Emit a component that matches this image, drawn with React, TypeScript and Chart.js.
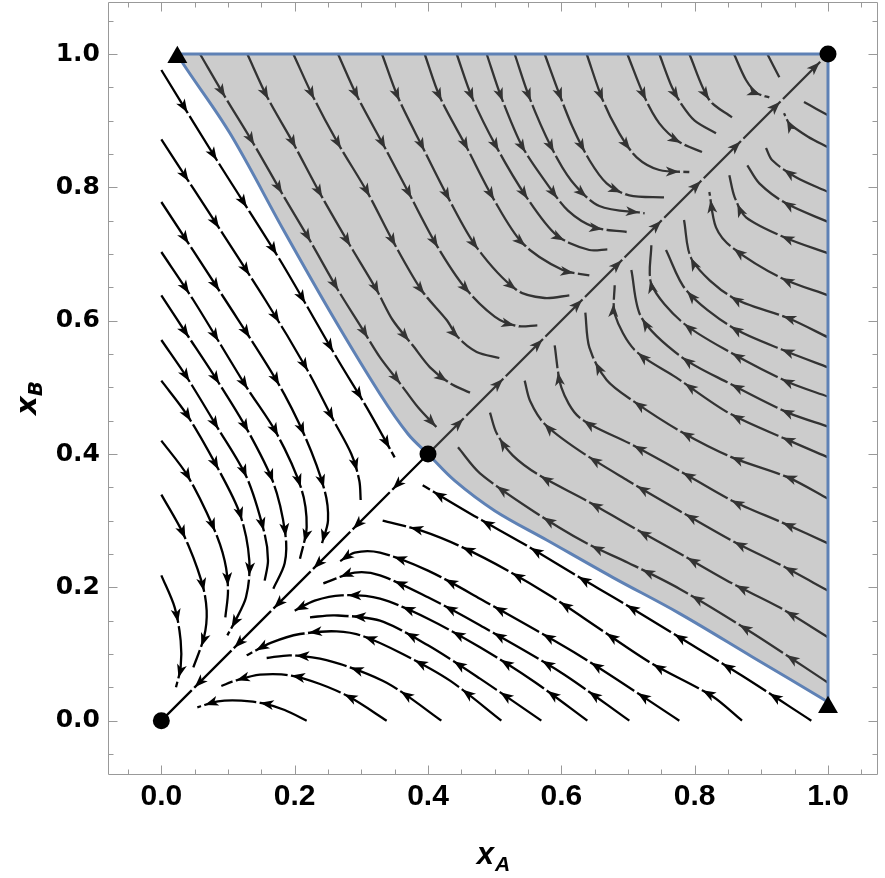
import React, { useEffect, useRef } from "react";
import { Chart, registerables } from "chart.js";

Chart.register(...registerables);

type Pt = [number, number];

// ---------- axes ----------
const xRange: Pt = [-0.08, 1.075];
const yRange: Pt = [-0.0815, 1.078];
const xTicks = [0, 0.2, 0.4, 0.6, 0.8, 1.0];
const yTicks = [0, 0.2, 0.4, 0.6, 0.8, 1.0];
const xAxisTitle = { main: "x", sub: "A" };
const yAxisTitle = { main: "x", sub: "B" };

// ---------- fixed points ----------
const circlePoints: Pt[] = [[0, 0], [0.4, 0.4], [1, 1]];
const trianglePoints: Pt[] = [[0.024, 0.995], [1, 0.02]];

// ---------- separatrix / basin boundary ----------
const upperSeparatrix: Pt[] = [
  [0.025, 1], [0.033, 0.985], [0.103, 0.881], [0.186, 0.731], [0.258, 0.605],
  [0.328, 0.49], [0.37, 0.43], [0.4, 0.4],
];
const lowerSeparatrix: Pt[] = [
  [0.4, 0.4], [0.44, 0.36], [0.5, 0.315], [0.578, 0.271], [0.677, 0.215],
  [0.777, 0.161], [0.886, 0.096], [1, 0.028],
];
const basinCorner: Pt = [1, 1];

// ---------- invariant diagonal ----------
const diagonalToOrigin: Pt[] = [[0.4, 0.4], [0, 0]];
const diagonalToOne: Pt[] = [[0.4, 0.4], [1, 1]];

// ---------- stream lines, white region above the diagonal ----------
const whiteUpperLines: Pt[][] = [
  [[0, 0.976], [0.085, 0.838], [0.178, 0.691], [0.265, 0.541], [0.308, 0.47], [0.35, 0.395]],
  [[0, 0.872], [0.156, 0.631], [0.219, 0.526], [0.258, 0.451], [0.285, 0.4], [0.297, 0.36], [0.299, 0.331]],
  [[0, 0.778], [0.096, 0.631], [0.173, 0.51], [0.216, 0.425], [0.245, 0.345], [0.25, 0.3], [0.241, 0.266]],
  [[0, 0.703], [0.048, 0.631], [0.128, 0.5], [0.173, 0.431], [0.21, 0.348], [0.218, 0.29], [0.208, 0.243]],
  [[0, 0.638], [0.036, 0.583], [0.084, 0.51], [0.128, 0.438], [0.168, 0.357], [0.186, 0.28], [0.185, 0.236], [0.168, 0.198]],
  [[0, 0.571], [0.039, 0.514], [0.084, 0.44], [0.128, 0.365], [0.155, 0.28], [0.16, 0.24], [0.155, 0.21]],
  [[0, 0.51], [0.039, 0.458], [0.084, 0.38], [0.118, 0.31], [0.132, 0.24], [0.127, 0.185], [0.11, 0.148], [0.099, 0.128]],
  [[0, 0.42], [0.039, 0.368], [0.078, 0.29], [0.095, 0.24], [0.1, 0.195], [0.096, 0.155]],
  [[0, 0.339], [0.033, 0.28], [0.06, 0.21], [0.068, 0.165], [0.064, 0.125], [0.048, 0.08]],
  [[0, 0.218], [0.02, 0.17], [0.029, 0.12], [0.029, 0.08], [0.022, 0.05]],
];

// ---------- stream lines, white region below the diagonal ----------
const whiteLowerLines: Pt[][] = [
  [[0.218, 0], [0.185, 0.016], [0.153, 0.026], [0.12, 0.03], [0.085, 0.029], [0.054, 0.02]],
  [[0.338, 0], [0.283, 0.035], [0.238, 0.055], [0.193, 0.068], [0.148, 0.069], [0.111, 0.06], [0.09, 0.052]],
  [[0.42, 0], [0.362, 0.042], [0.332, 0.06], [0.283, 0.08], [0.238, 0.093], [0.193, 0.098], [0.158, 0.094]],
  [[0.51, 0], [0.433, 0.06], [0.362, 0.1], [0.302, 0.127], [0.263, 0.134], [0.208, 0.13], [0.165, 0.117], [0.128, 0.098]],
  [[0.57, 0], [0.478, 0.063], [0.4, 0.113], [0.328, 0.15], [0.26, 0.158], [0.223, 0.155]],
  [[0.639, 0], [0.56, 0.058], [0.478, 0.11], [0.4, 0.153], [0.328, 0.183], [0.27, 0.188], [0.23, 0.18], [0.2, 0.165]],
  [[0.702, 0], [0.6, 0.072], [0.478, 0.143], [0.4, 0.185], [0.328, 0.218], [0.29, 0.222], [0.243, 0.206]],
  [[0.777, 0], [0.63, 0.096], [0.478, 0.183], [0.4, 0.225], [0.328, 0.252], [0.29, 0.252], [0.265, 0.237]],
  [[0.871, 0], [0.826, 0.037], [0.737, 0.085], [0.66, 0.136], [0.587, 0.185], [0.52, 0.225], [0.452, 0.26], [0.39, 0.285], [0.332, 0.3]],
  [[0.975, 0], [0.87, 0.068], [0.777, 0.125], [0.692, 0.177], [0.627, 0.215], [0.542, 0.266], [0.473, 0.305], [0.392, 0.353]],
];

// ---------- stream lines, shaded region above the diagonal ----------
const grayUpperLines: Pt[][] = [
  [[0.058, 1], [0.096, 0.935], [0.138, 0.866], [0.181, 0.791], [0.223, 0.72], [0.265, 0.646], [0.3, 0.59], [0.328, 0.545], [0.358, 0.506], [0.385, 0.47], [0.413, 0.44]],
  [[0.129, 1], [0.159, 0.935], [0.198, 0.866], [0.238, 0.791], [0.28, 0.718], [0.323, 0.646], [0.347, 0.601], [0.377, 0.563], [0.403, 0.53], [0.433, 0.506], [0.463, 0.492]],
  [[0.198, 1], [0.228, 0.935], [0.265, 0.866], [0.31, 0.791], [0.347, 0.72], [0.39, 0.646], [0.428, 0.601], [0.445, 0.575], [0.473, 0.553], [0.507, 0.544]],
  [[0.265, 1], [0.293, 0.938], [0.335, 0.86], [0.373, 0.788], [0.413, 0.713], [0.455, 0.65], [0.5, 0.606], [0.533, 0.592], [0.564, 0.593]],
  [[0.331, 1], [0.355, 0.935], [0.392, 0.86], [0.43, 0.785], [0.473, 0.71], [0.533, 0.646], [0.575, 0.634], [0.612, 0.638]],
  [[0.395, 1], [0.418, 0.935], [0.458, 0.86], [0.497, 0.785], [0.542, 0.716], [0.602, 0.676], [0.642, 0.668]],
  [[0.443, 1], [0.466, 0.935], [0.503, 0.86], [0.548, 0.785], [0.593, 0.728], [0.642, 0.706], [0.669, 0.707]],
  [[0.488, 1], [0.51, 0.935], [0.542, 0.86], [0.578, 0.806], [0.61, 0.765], [0.65, 0.74], [0.698, 0.733]],
  [[0.53, 1], [0.552, 0.935], [0.585, 0.86], [0.615, 0.81], [0.657, 0.772], [0.725, 0.761]],
  [[0.575, 1], [0.597, 0.94], [0.617, 0.89], [0.642, 0.841], [0.668, 0.806], [0.702, 0.788], [0.754, 0.785]],
  [[0.638, 1], [0.662, 0.931], [0.687, 0.881], [0.713, 0.845], [0.747, 0.826], [0.792, 0.823]],
  [[0.699, 1], [0.725, 0.935], [0.747, 0.896], [0.777, 0.868], [0.811, 0.853]],
  [[0.747, 1], [0.766, 0.95], [0.78, 0.925], [0.8, 0.9], [0.832, 0.881]],
  [[0.792, 1], [0.822, 0.931], [0.856, 0.905]],
  [[0.859, 1], [0.877, 0.961], [0.894, 0.941], [0.912, 0.935]],
  [[0.909, 1], [0.927, 0.965]],
];

// ---------- stream lines, shaded region below the diagonal ----------
const grayLowerLines: Pt[][] = [
  [[1, 0.908], [0.982, 0.918], [0.964, 0.928]],
  [[1, 0.86], [0.97, 0.876], [0.942, 0.896], [0.934, 0.911]],
  [[1, 0.793], [0.952, 0.815], [0.916, 0.841], [0.907, 0.859]],
  [[1, 0.748], [0.937, 0.776], [0.897, 0.806], [0.879, 0.833]],
  [[1, 0.701], [0.937, 0.724], [0.877, 0.755], [0.86, 0.785], [0.852, 0.818]],
  [[1, 0.638], [0.93, 0.664], [0.856, 0.71], [0.832, 0.74], [0.822, 0.793]],
  [[1, 0.575], [0.94, 0.604], [0.856, 0.635], [0.796, 0.691], [0.784, 0.751]],
  [[1, 0.53], [0.94, 0.553], [0.856, 0.59], [0.787, 0.646], [0.757, 0.706]],
  [[1, 0.486], [0.94, 0.508], [0.856, 0.551], [0.781, 0.598], [0.735, 0.655], [0.735, 0.713]],
  [[1, 0.441], [0.94, 0.462], [0.852, 0.506], [0.781, 0.545], [0.72, 0.605], [0.705, 0.676]],
  [[1, 0.395], [0.942, 0.42], [0.852, 0.461], [0.772, 0.515], [0.71, 0.556], [0.68, 0.61], [0.68, 0.653]],
  [[1, 0.333], [0.94, 0.365], [0.856, 0.395], [0.777, 0.435], [0.707, 0.48], [0.668, 0.511], [0.642, 0.56], [0.636, 0.612]],
  [[1, 0.266], [0.934, 0.296], [0.856, 0.33], [0.777, 0.375], [0.702, 0.416], [0.627, 0.455], [0.6, 0.5], [0.59, 0.563]],
  [[1, 0.195], [0.93, 0.233], [0.856, 0.27], [0.777, 0.315], [0.7, 0.36], [0.627, 0.405], [0.575, 0.445], [0.553, 0.48], [0.545, 0.51]],
  [[1, 0.125], [0.927, 0.17], [0.856, 0.206], [0.777, 0.251], [0.707, 0.29], [0.638, 0.33], [0.567, 0.368], [0.527, 0.398], [0.503, 0.431], [0.493, 0.462]],
  [[1, 0.057], [0.886, 0.132], [0.777, 0.198], [0.7, 0.237], [0.638, 0.266], [0.557, 0.315], [0.478, 0.371], [0.445, 0.41]],
];

// ---------- styling ----------
const LINE_COLOR = "#000000";
const BOUNDARY_BLUE = "#5E81B5";
const SHADE = "rgba(128,128,128,0.4)";
const FRAME_COLOR = "#999999";
const ARROW_FIRST = 50;
const ARROW_SPACING = 56;

const toXY = (pts: Pt[]) => pts.map(([x, y]) => ({ x, y }));

const streamArrows = {
  id: "streamArrows",
  afterDatasetDraw(chart: any, args: any) {
    const ds = chart.data.datasets[args.index];
    if (!ds || !ds.streamArrows) return;
    const els = args.meta.data;
    if (!els || els.length < 2) return;
    const poly: number[][] = [];
    for (let i = 0; i < els.length - 1; i++) {
      const a = els[i];
      const b = els[i + 1];
      const c1x = a.cp2x ?? a.x, c1y = a.cp2y ?? a.y;
      const c2x = b.cp1x ?? b.x, c2y = b.cp1y ?? b.y;
      const N = 24;
      for (let k = i === 0 ? 0 : 1; k <= N; k++) {
        const t = k / N, u = 1 - t;
        poly.push([
          u * u * u * a.x + 3 * u * u * t * c1x + 3 * u * t * t * c2x + t * t * t * b.x,
          u * u * u * a.y + 3 * u * u * t * c1y + 3 * u * t * t * c2y + t * t * t * b.y,
        ]);
      }
    }
    const ctx = chart.ctx;
    const area = chart.chartArea;
    ctx.save();
    ctx.beginPath();
    ctx.rect(area.left, area.top, area.right - area.left, area.bottom - area.top);
    ctx.clip();
    let acc = 0;
    let next = ARROW_FIRST;
    for (let i = 1; i < poly.length; i++) {
      const [x0, y0] = poly[i - 1];
      const [x1, y1] = poly[i];
      const seg = Math.hypot(x1 - x0, y1 - y0);
      if (seg === 0) continue;
      while (acc + seg >= next) {
        const t = (next - acc) / seg;
        const x = x0 + t * (x1 - x0);
        const y = y0 + t * (y1 - y0);
        const dx = (x1 - x0) / seg;
        const dy = (y1 - y0) / seg;
        // small gap after arrow tip
        ctx.strokeStyle = "#ffffff";
        ctx.lineWidth = 3.6;
        ctx.lineCap = "butt";
        ctx.beginPath();
        ctx.moveTo(x + dx * 0.6, y + dy * 0.6);
        ctx.lineTo(x + dx * 4, y + dy * 4);
        ctx.stroke();
        // arrow head
        const L = 13.5, W = 5, notch = 10;
        const px = -dy, py = dx;
        ctx.fillStyle = ds.borderColor;
        ctx.beginPath();
        ctx.moveTo(x, y);
        ctx.lineTo(x - dx * L + px * W, y - dy * L + py * W);
        ctx.lineTo(x - dx * notch, y - dy * notch);
        ctx.lineTo(x - dx * L - px * W, y - dy * L - py * W);
        ctx.closePath();
        ctx.fill();
        next += ARROW_SPACING;
      }
      acc += seg;
    }
    ctx.restore();
  },
};

const frameAndTitles = {
  id: "frameAndTitles",
  afterDraw(chart: any) {
    const ctx = chart.ctx;
    const a = chart.chartArea;
    const xs = chart.scales.x;
    const ys = chart.scales.y;
    ctx.save();
    ctx.strokeStyle = FRAME_COLOR;
    ctx.lineWidth = 1;
    const L = Math.round(a.left) + 0.5, R = Math.round(a.right) - 0.5;
    const T = Math.round(a.top) + 0.5, B = Math.round(a.bottom) - 0.5;
    ctx.beginPath();
    ctx.rect(L, T, R - L, B - T);
    ctx.stroke();
    ctx.beginPath();
    for (let k = -2; k <= 22; k++) {
      const v = k * 0.05;
      const major = k % 4 === 0;
      const len = major ? 9 : 5;
      if (v >= xs.min && v <= xs.max) {
        const px = Math.round(xs.getPixelForValue(v)) + 0.5;
        ctx.moveTo(px, B); ctx.lineTo(px, B - len);
        ctx.moveTo(px, T); ctx.lineTo(px, T + len);
      }
      if (v >= ys.min && v <= ys.max) {
        const py = Math.round(ys.getPixelForValue(v)) + 0.5;
        ctx.moveTo(L, py); ctx.lineTo(L + len, py);
        ctx.moveTo(R, py); ctx.lineTo(R - len, py);
      }
    }
    ctx.stroke();

    ctx.fillStyle = "#000";
    ctx.textBaseline = "alphabetic";
    // x axis title
    const mainX = 'italic bold 31px "Liberation Sans", Arial, sans-serif';
    const subX = 'italic bold 21px "Liberation Sans", Arial, sans-serif';
    ctx.font = mainX;
    const w1 = ctx.measureText(xAxisTitle.main).width;
    ctx.font = subX;
    const w2 = ctx.measureText(xAxisTitle.sub).width;
    const cx = (a.left + a.right) / 2;
    const sx = cx - (w1 + w2) / 2;
    ctx.font = mainX;
    ctx.textAlign = "left";
    ctx.fillText(xAxisTitle.main, sx, 864);
    ctx.font = subX;
    ctx.fillText(xAxisTitle.sub, sx + w1 + 1, 871);

    // y axis title (rotated)
    const mainY = 'italic bold 29px "DejaVu Sans", sans-serif';
    const subY = 'italic bold 20px "DejaVu Sans", sans-serif';
    ctx.font = mainY;
    const v1 = ctx.measureText(yAxisTitle.main).width;
    ctx.font = subY;
    const v2 = ctx.measureText(yAxisTitle.sub).width;
    ctx.translate(36, 398);
    ctx.rotate(-Math.PI / 2);
    const sy = -(v1 + v2) / 2;
    ctx.font = mainY;
    ctx.fillText(yAxisTitle.main, sy, 0);
    ctx.font = subY;
    ctx.fillText(yAxisTitle.sub, sy + v1, 6);
    ctx.restore();
  },
};

export default function App() {
  const ref = useRef<HTMLCanvasElement | null>(null);

  useEffect(() => {
    if (!ref.current) return;
    const streamDs = (pts: Pt[]) => ({
      data: toXY(pts),
      showLine: true,
      borderColor: LINE_COLOR,
      borderWidth: 2.3,
      borderCapStyle: "butt",
      pointRadius: 0,
      tension: 0.3,
      fill: false,
      order: 3,
      streamArrows: true,
    });
    const polygon: Pt[] = [...upperSeparatrix, ...lowerSeparatrix.slice(1), basinCorner];
    const boundaryDs = (pts: Pt[], tension: number) => ({
      data: toXY(pts),
      showLine: true,
      borderColor: BOUNDARY_BLUE,
      borderWidth: 3,
      pointRadius: 0,
      tension,
      fill: false,
      order: 1,
    });
    const datasets: any[] = [
      {
        data: toXY(circlePoints),
        showLine: false,
        pointStyle: "circle",
        pointRadius: 8.5,
        pointBackgroundColor: "#000",
        pointBorderWidth: 0,
        order: 0,
      },
      {
        data: toXY(trianglePoints),
        showLine: false,
        pointStyle: "triangle",
        pointRadius: 11.5,
        pointBackgroundColor: "#000",
        pointBorderWidth: 0,
        order: 0,
      },
      boundaryDs(upperSeparatrix, 0.35),
      boundaryDs(lowerSeparatrix, 0.35),
      boundaryDs([upperSeparatrix[0], basinCorner, lowerSeparatrix[lowerSeparatrix.length - 1]], 0),
      {
        data: toXY(polygon),
        showLine: true,
        borderWidth: 0,
        borderColor: "rgba(0,0,0,0)",
        backgroundColor: SHADE,
        pointRadius: 0,
        tension: 0,
        fill: "shape",
        order: 2,
      },
      streamDs(diagonalToOrigin),
      streamDs(diagonalToOne),
      ...whiteUpperLines.map(streamDs),
      ...whiteLowerLines.map(streamDs),
      ...grayUpperLines.map(streamDs),
      ...grayLowerLines.map(streamDs),
    ];

    const chart = new Chart(ref.current, {
      type: "scatter",
      data: { datasets },
      options: {
        animation: false,
        responsive: false,
        events: [],
        layout: { autoPadding: false, padding: { left: 0, right: 7, top: 2, bottom: 0 } },
        plugins: { legend: { display: false }, tooltip: { enabled: false } },
        scales: {
          x: {
            type: "linear",
            min: xRange[0],
            max: xRange[1],
            afterBuildTicks: (s: any) => { s.ticks = xTicks.map((v) => ({ value: v })); },
            afterFit: (s: any) => {
              s.height = 103;
              s.paddingLeft = 0;
              s.paddingRight = 0;
              s.paddingTop = 0;
              s.paddingBottom = 0;
            },
            grid: { display: false, drawTicks: false },
            border: { display: false },
            ticks: {
              callback: (v: any) => Number(v).toFixed(1),
              color: "#000",
              padding: 4,
              maxRotation: 0,
              autoSkip: false,
              font: { family: '"Liberation Sans", Arial, sans-serif', size: 30, weight: "bold" },
            },
          },
          y: {
            type: "linear",
            min: yRange[0],
            max: yRange[1],
            afterBuildTicks: (s: any) => { s.ticks = yTicks.map((v) => ({ value: v })); },
            afterFit: (s: any) => {
              s.width = 108;
              s.paddingLeft = 0;
              s.paddingRight = 0;
              s.paddingTop = 0;
              s.paddingBottom = 0;
            },
            grid: { display: false, drawTicks: false },
            border: { display: false },
            ticks: {
              callback: (v: any) => Number(v).toFixed(1),
              color: "#000",
              padding: 8,
              autoSkip: false,
              font: { family: '"DejaVu Sans", sans-serif', size: 25, weight: "bold" },
            },
          },
        },
      } as any,
      plugins: [streamArrows, frameAndTitles],
    });
    return () => chart.destroy();
  }, []);

  return (
    <div style={{ position: "absolute", left: 0, top: 0, width: 885, height: 878, background: "#fff" }}>
      <canvas ref={ref} width={885} height={878} style={{ display: "block" }} />
    </div>
  );
}
